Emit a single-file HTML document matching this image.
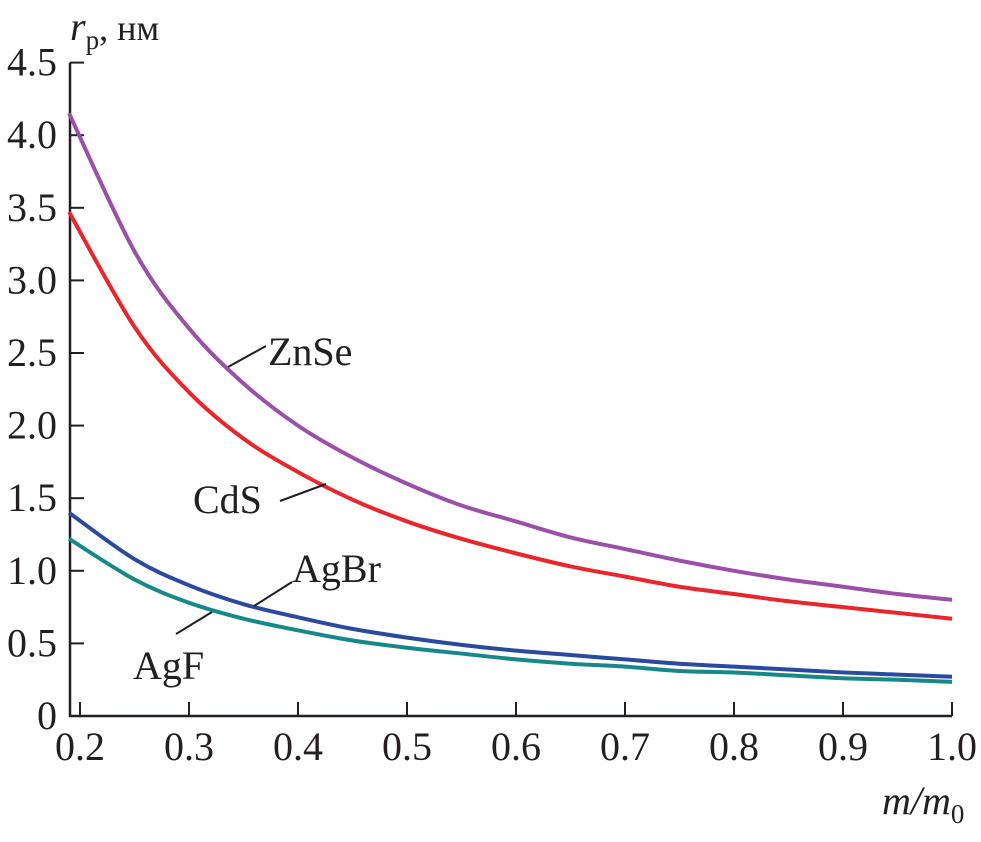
<!DOCTYPE html>
<html><head><meta charset="utf-8"><style>
html,body{margin:0;padding:0;background:#fff;}
svg text{font-family:"Liberation Serif",serif;fill:#231f20;}
</style></head><body>
<svg id="chart" width="981" height="837" viewBox="0 0 981 837" xmlns="http://www.w3.org/2000/svg">
<g id="axes"></g>
<g id="series"></g>
<g id="labels">
  <text x="268" y="365" font-size="40">ZnSe</text>
  <line x1="228" y1="367" x2="266" y2="346" stroke="#231f20" stroke-width="2"/>
  <text x="193" y="513" font-size="40">CdS</text>
  <line x1="280" y1="501" x2="326" y2="484" stroke="#231f20" stroke-width="2"/>
  <text x="292" y="582" font-size="40">AgBr</text>
  <line x1="254" y1="606" x2="292" y2="582" stroke="#231f20" stroke-width="2"/>
  <text x="133" y="679" font-size="40">AgF</text>
  <line x1="176" y1="634" x2="212" y2="612" stroke="#231f20" stroke-width="2"/>
</g>
<text x="70" y="40" font-size="40" font-style="italic">r<tspan font-style="normal" font-size="27" dy="9">p</tspan><tspan font-style="normal" font-size="36" dy="-9">, нм</tspan></text>
<text x="882" y="814" font-size="40" font-style="italic">m/m<tspan font-style="normal" font-size="27" dy="9">0</tspan></text>
</svg>
<script>
const xs=[0.19,0.25,0.3,0.35,0.4,0.45,0.5,0.55,0.6,0.65,0.7,0.75,0.8,0.85,0.9,0.95,1.0];
const znse=[4.15,3.2,2.67,2.29,2.0,1.78,1.6,1.45,1.34,1.23,1.15,1.07,1.0,0.94,0.89,0.84,0.8];
const cds=[3.47,2.68,2.23,1.91,1.68,1.49,1.34,1.22,1.12,1.03,0.96,0.89,0.84,0.79,0.75,0.71,0.67];
const agbr=[1.40,1.08,0.9,0.77,0.68,0.6,0.54,0.49,0.45,0.42,0.39,0.36,0.34,0.32,0.30,0.285,0.27];
const agf=[1.22,0.94,0.78,0.67,0.59,0.52,0.47,0.43,0.39,0.36,0.34,0.31,0.30,0.28,0.26,0.25,0.235];
const xTicks=[0.2,0.3,0.4,0.5,0.6,0.7,0.8,0.9,1.0];
const xTickLabels=["0.2","0.3","0.4","0.5","0.6","0.7","0.8","0.9","1.0"];
const yTicks=[0,0.5,1,1.5,2,2.5,3,3.5,4,4.5];
const yTickLabels=["0","0.5","1.0","1.5","2.0","2.5","3.0","3.5","4.0","4.5"];

const NS="http://www.w3.org/2000/svg";
const X=v=>80+(v-0.2)*1090;
const Y=v=>716-v*145.2;
const ax=document.getElementById('axes');
function mk(tag,attrs,parent){const e=document.createElementNS(NS,tag);for(const k in attrs)e.setAttribute(k,attrs[k]);parent.appendChild(e);return e;}
let e=mk('line',{x1:70,y1:Y(4.5),x2:70,y2:717,stroke:'#231f20','stroke-width':2.5},ax);


e=mk('line',{x1:69,y1:716,x2:X(1.0),y2:716,stroke:'#231f20','stroke-width':2.5},ax);


xTicks.forEach((t,i)=>{
  const l=mk('line',{x1:X(t),y1:716,x2:X(t),y2:702,stroke:'#231f20','stroke-width':2},ax);
  
  
  const tx=mk('text',{x:X(t),y:760,'font-size':40,'text-anchor':'middle'},ax);
  tx.textContent=xTickLabels[i];
  
  
});
yTicks.forEach((t,i)=>{
  if(t>0){const l=mk('line',{x1:70,y1:Y(t),x2:84,y2:Y(t),stroke:'#231f20','stroke-width':2},ax);
  
  }
  const tx=mk('text',{x:57,y:Y(t)+13,'font-size':40,'text-anchor':'end'},ax);
  tx.textContent=yTickLabels[i];
  
  
});
function pathFor(vals){
  const p=xs.map((x,i)=>[X(x),Y(vals[i])]);
  let d='M'+p[0][0]+','+p[0][1];
  for(let i=0;i<p.length-1;i++){
    const p0=p[Math.max(0,i-1)],p1=p[i],p2=p[i+1],p3=p[Math.min(p.length-1,i+2)];
    const c1=[p1[0]+(p2[0]-p0[0])/6,p1[1]+(p2[1]-p0[1])/6];
    const c2=[p2[0]-(p3[0]-p1[0])/6,p2[1]-(p3[1]-p1[1])/6];
    d+=` C${c1[0]},${c1[1]} ${c2[0]},${c2[1]} ${p2[0]},${p2[1]}`;
  }
  return d;
}
const sg=document.getElementById('series');
[[znse,'#9b4fa8','line-znse'],[cds,'#e8262b','line-cds'],[agbr,'#2a4a9e','line-agbr'],[agf,'#16888a','line-agf']].forEach(([v,c,n])=>{
  const p=mk('path',{d:pathFor(v),fill:'none',stroke:c,'stroke-width':4},sg);
  
  
});
</script>
</body></html>
